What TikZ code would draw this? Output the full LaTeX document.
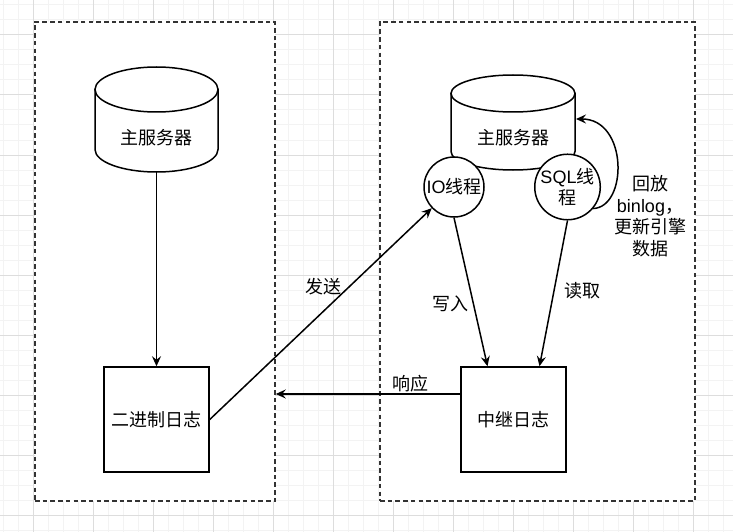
\documentclass[tikz,border=0pt]{standalone}
\usepackage{fontspec}
\setmainfont{Liberation Sans}
\newfontfamily\cjk{Noto Sans CJK SC}
\usetikzlibrary{arrows.meta,calc}
\definecolor{gridminor}{HTML}{F3F3F3}
\definecolor{gridmajor}{HTML}{DDDDDD}
\definecolor{dashcol}{HTML}{333333}
\tikzset{
  every node/.style={font=\fontsize{18}{21.5}\selectfont},
  zone/.style={draw=dashcol, line width=1.5pt, dash pattern=on 4.5pt off 3.2pt, fill=white, minimum width=#1, minimum height=479pt, inner sep=0pt},
  logbox/.style={draw, line width=1.5pt, fill=white, minimum width=105pt, minimum height=105pt, inner sep=0pt},
  thread/.style={draw, circle, line width=1.5pt, fill=white, minimum size=60pt, inner sep=0pt, align=center},
  cyl/.style={draw, line width=1.5pt, fill=white},
  arr/.style={line width=1.5pt, -{Stealth[length=10pt,width=9pt,inset=3.5pt]}},
  lbl/.style={inner sep=1pt},
}
\begin{document}
\begin{tikzpicture}[x=1pt,y=-1pt]
\useasboundingbox (0,0) rectangle (733,532);
\fill[white] (0,0) rectangle (733,532);
% grid
\foreach \gx in {3,18,...,733} \draw[gridminor, line width=1pt] (\gx,0) -- (\gx,532);
\foreach \gy in {5,20,...,532} \draw[gridminor, line width=1pt] (0,\gy) -- (733,\gy);
\foreach \gx in {33,93,...,733} \draw[gridmajor, line width=1pt] (\gx,0) -- (\gx,532);
\foreach \gy in {35,95,...,532} \draw[gridmajor, line width=1pt] (0,\gy) -- (733,\gy);

% zones
\node[zone=240pt] (leftbox) at (155,261.5) {};
\node[zone=315pt] (rightbox) at (537.5,261.5) {};

% left cylinder
\path[cyl] (95,89.5) -- (95,149.5) arc[start angle=180, end angle=360, x radius=61.5pt, y radius=22.5pt] -- (218,89.5) -- cycle;
\draw[cyl] (156.5,89.5) ellipse [x radius=61.5pt, y radius=22.5pt];
\node (srv1) at (156.5,138) {\cjk 主服务器};
\coordinate (srv1bot) at (156.5,172);

% right cylinder
\path[cyl] (451,93.5) -- (451,151.5) arc[start angle=180, end angle=360, x radius=62pt, y radius=18.5pt] -- (575,93.5) -- cycle;
\draw[cyl] (513,93.5) ellipse [x radius=62pt, y radius=18.5pt];
\node (srv2) at (513,138) {\cjk 主服务器};
\coordinate (srv2r) at (576,119);

% threads
\node[thread] (io) at (454,187) {IO{\cjk 线程}};
\node[thread] (sql) at (567.5,187) {SQL{\cjk 线}\\[-1pt]{\cjk 程}};

% logs
\node[logbox] (bin) at (156.5,419.5) {\cjk 二进制日志};
\node[logbox] (relay) at (513.5,419.5) {\cjk 中继日志};

% connectors
\draw[arr] (srv1bot) -- (bin.north);
\draw[arr] (bin.east) -- (io);
\coordinate (resp) at ([yshift=25.5pt]relay.west);
\draw[arr] (resp) -- (resp -| leftbox.east);
\draw[arr] (io.south) -- ([xshift=-26pt]relay.north);
\draw[arr] (sql.south) -- ([xshift=26pt]relay.north);
\draw[arr] (sql.-40) .. controls (628,207) and (628,119) .. (srv2r);

% labels
\node[lbl] (l1) at (323,287) {\cjk 发送};
\node[lbl] (l2) at (410,384) {\cjk 响应};
\node[lbl] (l3) at (450,304) {\cjk 写入};
\node[lbl] (l4) at (582,291) {\cjk 读取};
\node[lbl, align=center] (l5) at (650,216) {{\cjk 回放}\\binlog{\cjk ，}\\{\cjk 更新引擎}\\{\cjk 数据}};
\end{tikzpicture}
\end{document}
